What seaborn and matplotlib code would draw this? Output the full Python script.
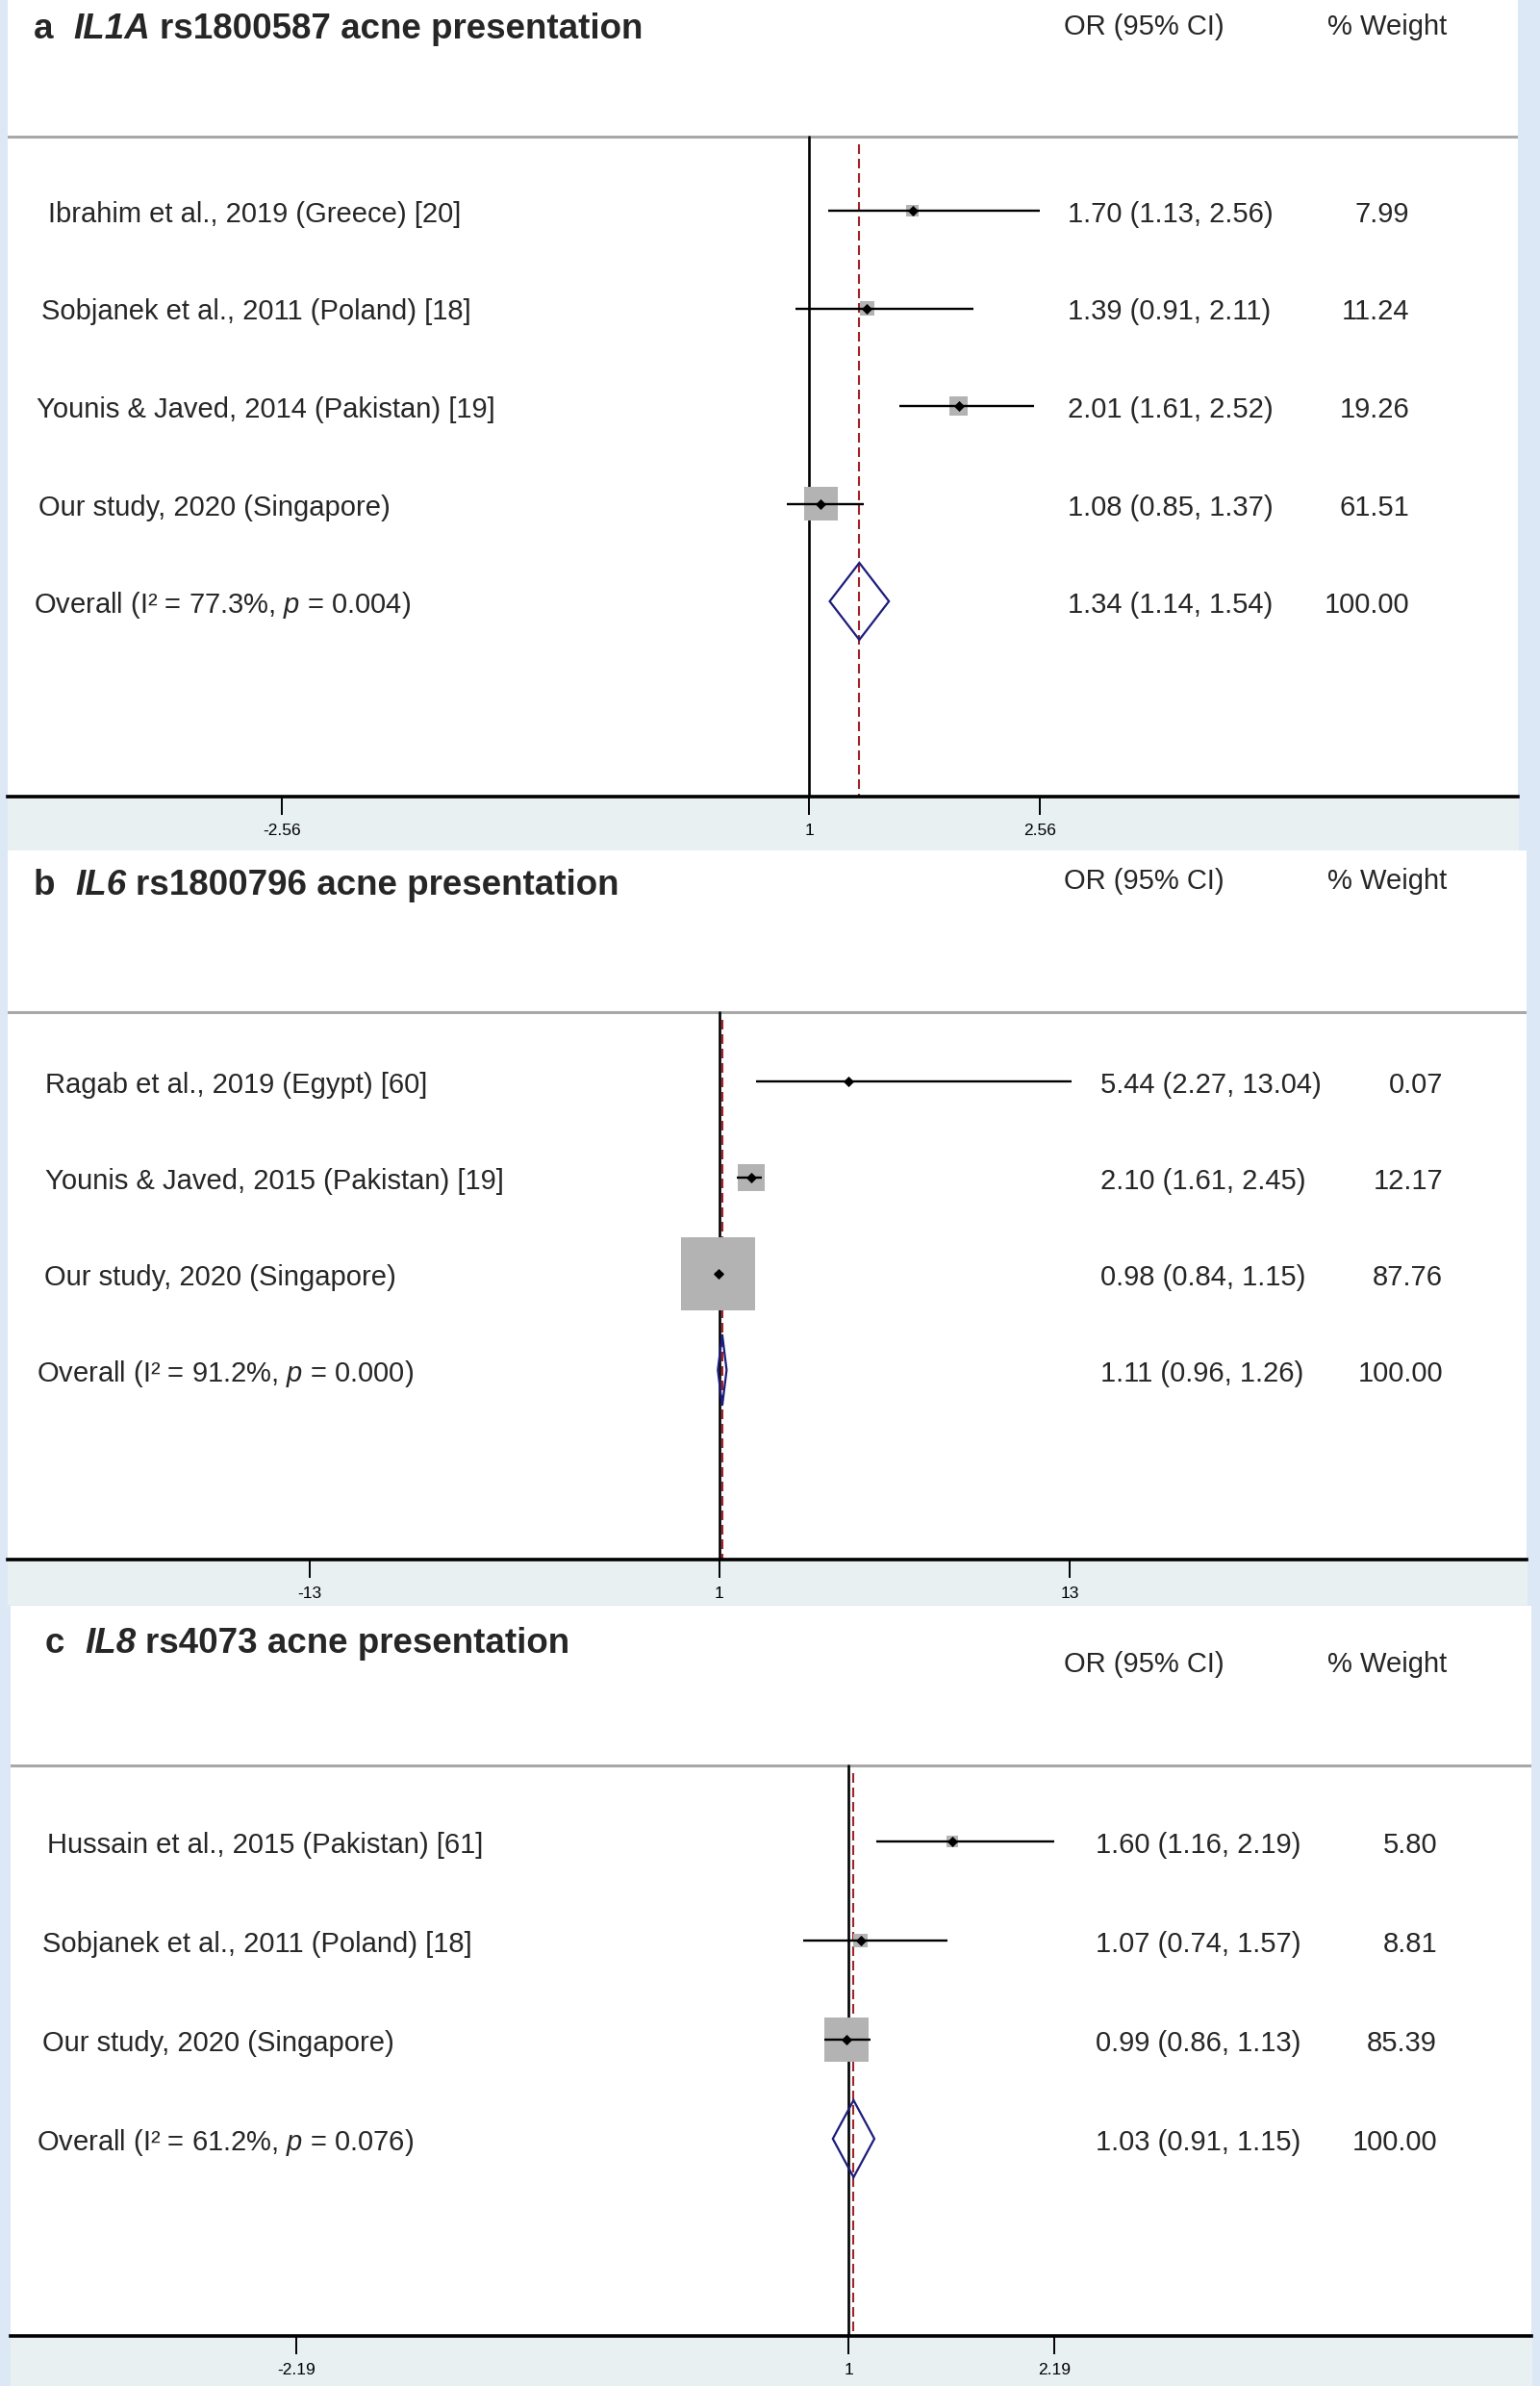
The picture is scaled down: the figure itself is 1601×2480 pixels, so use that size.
import matplotlib.pyplot as plt
from matplotlib.patches import Rectangle, Polygon
import numpy as np
import pandas as pd
import seaborn as sns

sns.set_theme(style="white")
plt.rcParams["font.family"] = ["Liberation Sans", "DejaVu Sans"]
plt.rcParams["mathtext.fontset"] = "custom"
plt.rcParams["mathtext.rm"] = "Liberation Sans"
plt.rcParams["mathtext.it"] = "Liberation Sans:italic"

# ---- data: panel a (IL1A rs1800587) ----
a_gene, a_snp = "IL1A", "rs1800587"
a_studies = [
    "Ibrahim et al., 2019 (Greece) [20]",
    "Sobjanek et al., 2011 (Poland) [18]",
    "Younis & Javed, 2014 (Pakistan) [19]",
    "Our study, 2020 (Singapore)",
]
a_or = [1.70, 1.39, 2.01, 1.08]
a_lo = [1.13, 0.91, 1.61, 0.85]
a_hi = [2.56, 2.11, 2.52, 1.37]
a_weight = [7.99, 11.24, 19.26, 61.51]
a_overall = [1.34, 1.14, 1.54]
a_i2, a_p = "77.3%", "0.004"
a_ticks = [-2.56, 1, 2.56]

# ---- data: panel b (IL6 rs1800796) ----
b_gene, b_snp = "IL6", "rs1800796"
b_studies = [
    "Ragab et al., 2019 (Egypt) [60]",
    "Younis & Javed, 2015 (Pakistan) [19]",
    "Our study, 2020 (Singapore)",
]
b_or = [5.44, 2.10, 0.98]
b_lo = [2.27, 1.61, 0.84]
b_hi = [13.04, 2.45, 1.15]
b_weight = [0.07, 12.17, 87.76]
b_overall = [1.11, 0.96, 1.26]
b_i2, b_p = "91.2%", "0.000"
b_ticks = [-13, 1, 13]

# ---- data: panel c (IL8 rs4073) ----
c_gene, c_snp = "IL8", "rs4073"
c_studies = [
    "Hussain et al., 2015 (Pakistan) [61]",
    "Sobjanek et al., 2011 (Poland) [18]",
    "Our study, 2020 (Singapore)",
]
c_or = [1.60, 1.07, 0.99]
c_lo = [1.16, 0.74, 0.86]
c_hi = [2.19, 1.57, 1.13]
c_weight = [5.80, 8.81, 85.39]
c_overall = [1.03, 0.91, 1.15]
c_i2, c_p = "61.2%", "0.076"
c_ticks = [-2.19, 1, 2.19]

# ---- layout (pixels of the 1601x2480 canvas) ----
W, H = 1601, 2480
BLUE = "#dce8f5"
BAND = "#e8f0f2"
BOX = "#b3b3b3"
NAVY = "#1c1c7c"
RED = "#a0242a"
FS = 21
TFS = 26.5
DY = 4  # text baseline nudge

lay_a = dict(left=8, right=1578, top=0, axis=828, band=883, x1=841, ppu=154,
             grid=142, r0=219, step=101.5, dh=40, box_k=4.5,
             title_x=35, title_y=26, hdr_y=24, label_x=[50, 43, 38, 40], overall_x=35,
             ci_x=1110, w_x=1465)
lay_b = dict(left=8, right=1587, top=884, axis=1621, band=1667, x1=747.5, ppu=30.4,
             grid=1052, r0=1124, step=100, dh=37, box_k=8.2,
             title_x=35, title_y=916, hdr_y=912, label_x=[47, 47, 46], overall_x=38,
             ci_x=1144, w_x=1500)
lay_c = dict(left=11, right=1592, top=1669, axis=2428, band=2480, x1=882, ppu=180,
             grid=1835, r0=1914, step=103, dh=40, box_k=5.0,
             title_x=47, title_y=1704, hdr_y=1726, label_x=[49, 44, 44], overall_x=38,
             ci_x=1139, w_x=1494)


def draw_panel(fig, lay, letter, gene, snp, studies, est, lo, hi, weight,
               overall, i2, pval, ticks):
    L, R, top, ax_y = lay["left"], lay["right"], lay["top"], lay["axis"]
    fig.patches.append(Rectangle((L / W, 1 - lay["band"] / H), (R - L) / W,
                                 (lay["band"] - ax_y) / H, transform=fig.transFigure,
                                 color=BAND, zorder=-1))
    ax = fig.add_axes([L / W, 1 - ax_y / H, (R - L) / W, (ax_y - top) / H])
    ax.set_facecolor("white")

    def px(x):
        return 1 + (x - lay["x1"]) / lay["ppu"]

    ax.set_xlim(px(L), px(R))
    ax.set_ylim(ax_y, top)
    ys = [lay["r0"] + i * lay["step"] for i in range(len(studies) + 1)]

    ax.axhline(lay["grid"], color="#a8a8a8", lw=2.2, zorder=1)
    ax.plot([1, 1], [lay["grid"], ax_y], color="black", lw=1.9, zorder=1)
    ax.plot([overall[0]] * 2, [lay["grid"] + 8, ax_y], color=RED, lw=1.5,
            ls=(0, (4.8, 2.4)), zorder=1)

    df = pd.DataFrame({"est": est, "y": ys[:-1], "w": weight})
    area = (lay["box_k"] * np.sqrt(df["w"].values) * 0.72) ** 2
    sns.scatterplot(data=df, x="est", y="y", marker="s", s=area, color=BOX,
                    linewidth=0, ax=ax, zorder=2, legend=False)
    ax.hlines(ys[:-1], lo, hi, color="black", lw=1.7, zorder=3)
    sns.scatterplot(data=df, x="est", y="y", marker="D", s=32, color="black",
                    linewidth=0, ax=ax, zorder=4, legend=False)

    o, olo, ohi = overall
    yo, dh = ys[-1], lay["dh"]
    ax.add_patch(Polygon([(olo, yo), (o, yo - dh), (ohi, yo), (o, yo + dh)],
                         closed=True, fill=False, edgecolor=NAVY, lw=1.6, zorder=4))

    # text columns
    for y, lx, s, e, l, h, w in zip(ys, lay["label_x"], studies, est, lo, hi, weight):
        ax.text(px(lx), y + DY, s, fontsize=FS, va="center", ha="left")
        ax.text(px(lay["ci_x"]), y + DY, f"{e:.2f} ({l:.2f}, {h:.2f})", fontsize=FS,
                va="center", ha="left")
        ax.text(px(lay["w_x"]), y + DY, f"{w:.2f}", fontsize=FS, va="center", ha="right")
    ax.text(px(lay["overall_x"]), yo + DY, f"Overall (I\u00b2 = {i2}, $p$ = {pval})",
            fontsize=FS, va="center", ha="left")
    ax.text(px(lay["ci_x"]), yo + DY, f"{o:.2f} ({olo:.2f}, {ohi:.2f})", fontsize=FS,
            va="center", ha="left")
    ax.text(px(lay["w_x"]), yo + DY, f"{100:.2f}", fontsize=FS, va="center", ha="right")

    ax.text(px(1106), lay["hdr_y"] + DY, "OR (95% CI)", fontsize=FS, va="center")
    ax.text(px(1380), lay["hdr_y"] + DY, "% Weight", fontsize=FS, va="center")

    t1 = ax.text(px(lay["title_x"]), lay["title_y"] + DY, letter, fontsize=TFS,
                 fontweight="bold", va="center")
    t2 = ax.annotate(gene, xy=(1, 0), xycoords=t1, xytext=(15, 0),
                     textcoords="offset points", fontsize=TFS, fontweight="bold",
                     style="italic", va="bottom")
    ax.annotate(f"{snp} acne presentation", xy=(1, 0), xycoords=t2, xytext=(7, 0),
                textcoords="offset points", fontsize=TFS, fontweight="bold",
                va="bottom")

    # axis
    sns.despine(ax=ax, left=True)
    ax.spines["bottom"].set_linewidth(2.6)
    ax.spines["bottom"].set_color("black")
    ax.set_yticks([])
    ax.set_xticks(ticks)
    ax.set_xticklabels([f"{t:g}" for t in ticks], fontsize=12.5)
    ax.tick_params(axis="x", direction="out", length=14, width=1.4, pad=6,
                   colors="black", bottom=True)
    ax.set_xlabel("")
    ax.set_ylabel("")
    return ax


fig = plt.figure(figsize=(W / 100, H / 100), dpi=100, facecolor=BLUE)
draw_panel(fig, lay_a, "a", a_gene, a_snp, a_studies, a_or, a_lo, a_hi, a_weight,
           a_overall, a_i2, a_p, a_ticks)
draw_panel(fig, lay_b, "b", b_gene, b_snp, b_studies, b_or, b_lo, b_hi, b_weight,
           b_overall, b_i2, b_p, b_ticks)
draw_panel(fig, lay_c, "c", c_gene, c_snp, c_studies, c_or, c_lo, c_hi, c_weight,
           c_overall, c_i2, c_p, c_ticks)

fig.savefig("out.png", dpi=100, facecolor=fig.get_facecolor())
